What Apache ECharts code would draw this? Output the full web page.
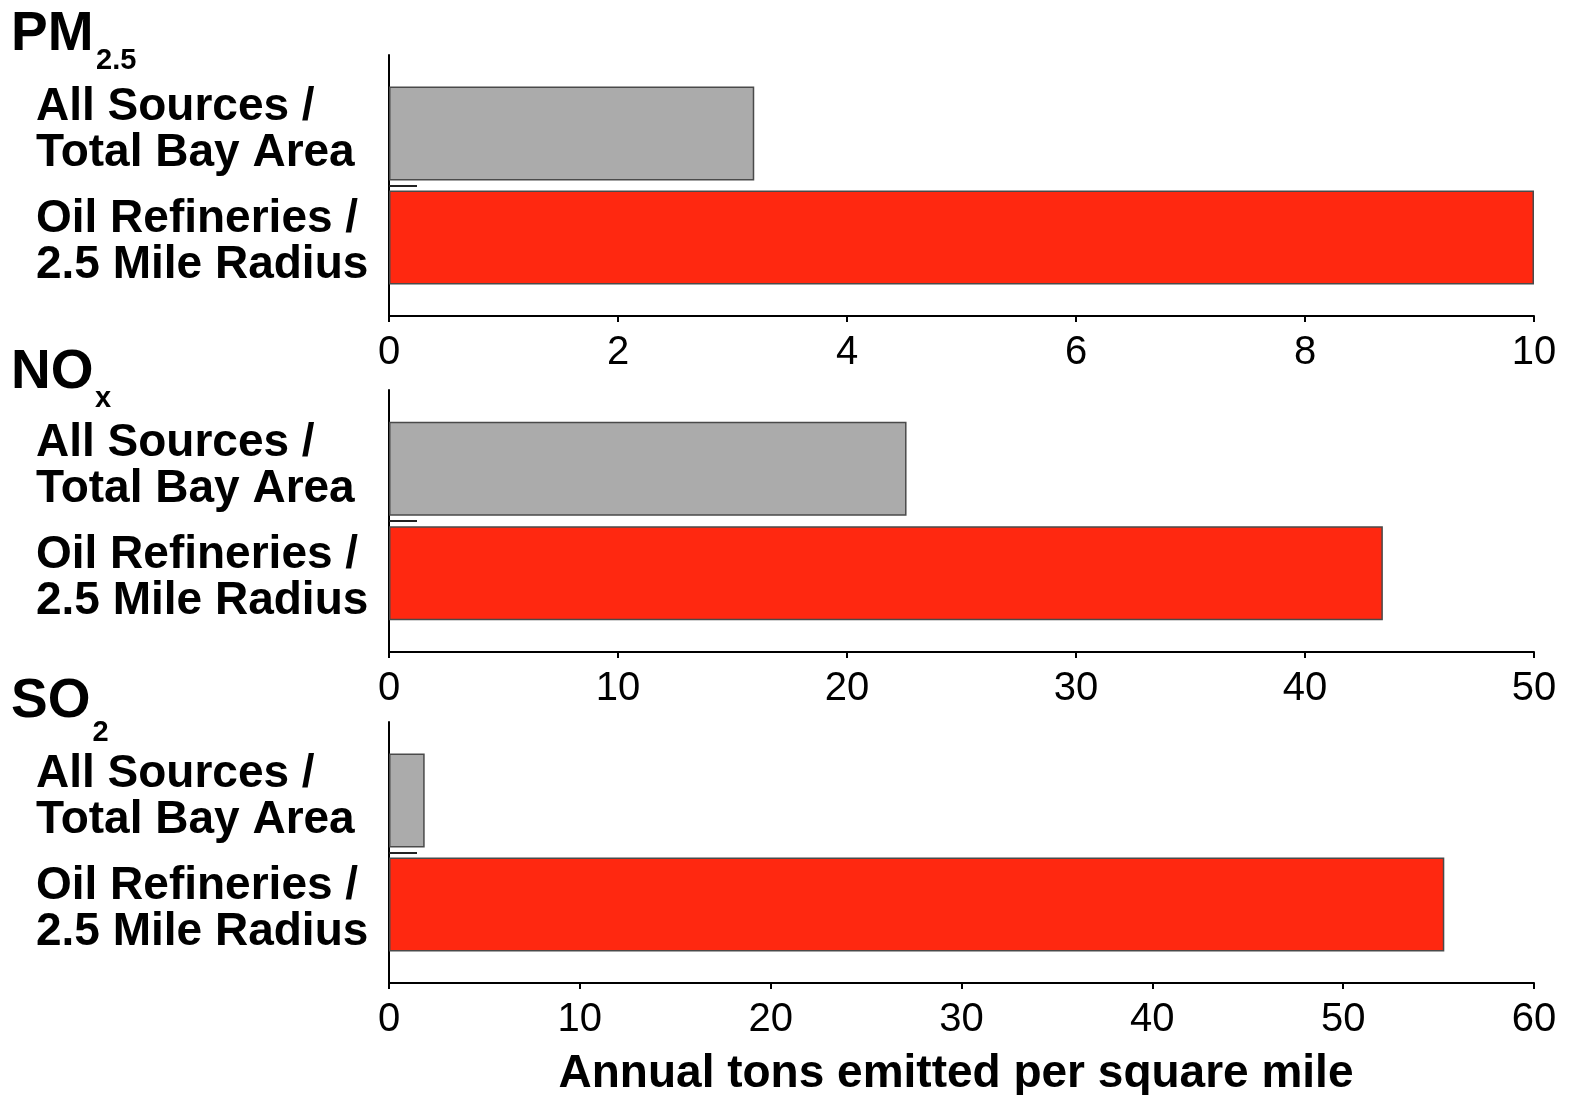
<!DOCTYPE html>
<html>
<head>
<meta charset="utf-8">
<script src="https://cdn.jsdelivr.net/npm/echarts@6/dist/echarts.min.js"></script>
<style>
html,body{margin:0;padding:0;background:#fff;}
#chart{width:1576px;height:1095px;}
</style>
</head>
<body>
<div id="chart"></div>
<script>
// ---- data ----
const pollutants = ['PM', 'NO', 'SO'];
const pollutantSubs = ['2.5', 'x', '2'];
const categories = ['All Sources /\nTotal Bay Area', 'Oil Refineries /\n2.5 Mile Radius'];
const allSourcesValues = [3.19, 22.6, 1.87];
const refineryValues = [10.0, 43.4, 55.3];
const xMax = [10, 50, 60];
const xInterval = [2, 10, 10];
const midTickValues = [1];
const axisTitle = 'Annual tons emitted per square mile';

// ---- layout / style ----
const FONT = '"Liberation Sans", Arial, Helvetica, sans-serif';
const gridTops = [55, 390, 722];
const gridHeights = [261, 262, 261];
const titleTops = [7.5, 345.5, 674.5];
const subTops = [46, 384, 718];
const subLefts = [96, 95, 92.5];

const grids = [], xAxes = [], yAxes = [], series = [], titles = [];

function labelFormatter(value, index) {
  const lines = value.split('\n').map(function (l) { return '{n|' + l + '}'; });
  if (index === 0) return '{top| }\n' + lines.join('\n');
  return lines.join('\n') + '\n{bot| }';
}

pollutants.forEach(function (p, g) {
  grids.push({left: 389, right: 42, top: gridTops[g], height: gridHeights[g], containLabel: false, outerBoundsMode: 'none'});
  titles.push({text: p, left: 11, top: titleTops[g], padding: 0,
    textStyle: {fontFamily: FONT, fontSize: 55, fontWeight: 'bold', color: '#000', lineHeight: 55}});
  titles.push({text: pollutantSubs[g], left: subLefts[g], top: subTops[g], padding: 0,
    textStyle: {fontFamily: FONT, fontSize: 29, fontWeight: 'bold', color: '#000', lineHeight: 29}});

  const xa = {
    type: 'value', gridIndex: g, min: 0, max: xMax[g], interval: xInterval[g],
    axisLine: {show: true, lineStyle: {color: '#000', width: 2}},
    axisTick: {show: true, length: 6, lineStyle: {color: '#000', width: 2}},
    axisLabel: {fontFamily: FONT, fontSize: 40, color: '#000', margin: 17, lineHeight: 40},
    splitLine: {show: false}
  };
  if (g === pollutants.length - 1) {
    xa.name = axisTitle;
    xa.nameLocation = 'middle';
    xa.nameGap = 68;
    xa.nameTextStyle = {fontFamily: FONT, fontSize: 46, fontWeight: 'bold', color: '#000', lineHeight: 46, padding: [0, 11, 0, 0]};
  }
  xAxes.push(xa);

  yAxes.push({
    type: 'category', gridIndex: g, inverse: true, data: categories,
    axisLine: {show: true, lineStyle: {color: '#000', width: 2}},
    axisTick: {show: false},
    axisLabel: {
      interval: 0, align: 'left', margin: 353,
      fontFamily: FONT, fontSize: 46, fontWeight: 'bold', color: '#000', lineHeight: 46,
      formatter: labelFormatter,
      rich: {
        n: {fontFamily: FONT, fontSize: 46, fontWeight: 'bold', color: '#000', lineHeight: 46, align: 'left'},
        top: {fontSize: 1, lineHeight: 21, align: 'left'},
        bot: {fontSize: 1, lineHeight: 16, align: 'left'}
      }
    },
    splitLine: {show: false}
  });
  yAxes.push({
    type: 'value', gridIndex: g, min: 0, max: 2, position: 'left',
    axisLine: {show: false}, axisLabel: {show: false}, splitLine: {show: false},
    axisTick: {show: true, inside: true, length: 28, customValues: midTickValues, lineStyle: {color: '#222', width: 2}}
  });

  series.push({
    type: 'bar', name: 'Oil Refineries / 2.5 Mile Radius', xAxisIndex: g, yAxisIndex: 2 * g,
    data: ['-', refineryValues[g]], barWidth: 94, barGap: '-72%',
    itemStyle: {color: '#ff2810', borderColor: '#4a4a4a', borderWidth: 1.5}
  });
  series.push({
    type: 'bar', name: 'All Sources / Total Bay Area', xAxisIndex: g, yAxisIndex: 2 * g,
    data: [allSourcesValues[g], '-'], barWidth: 94, barGap: '-72%',
    itemStyle: {color: '#ababab', borderColor: '#4a4a4a', borderWidth: 1.5}
  });
});

const chart = echarts.init(document.getElementById('chart'), null, {renderer: 'canvas'});
chart.setOption({
  backgroundColor: '#fff',
  animation: false,
  title: titles,
  grid: grids,
  xAxis: xAxes,
  yAxis: yAxes,
  series: series
});
</script>
</body>
</html>
